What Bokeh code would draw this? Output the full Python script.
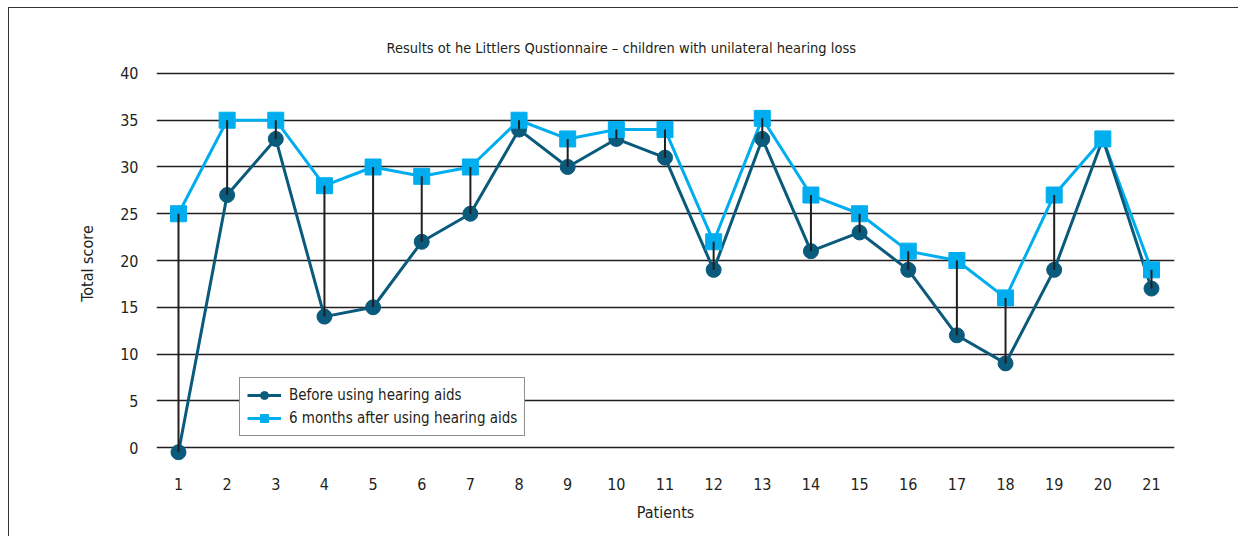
from bokeh.plotting import figure
from bokeh.models import Range1d, FixedTicker, Title, Legend, LegendItem, ColumnDataSource
from bokeh.embed import file_html
from bokeh.resources import INLINE

patients = list(range(1, 22))
before = [-0.5, 27, 33, 14, 15, 22, 25, 34, 30, 33, 31, 19, 33, 21, 23, 19, 12, 9, 19, 33, 17]
after = [25, 35, 35, 28, 30, 29, 30, 35, 33, 34, 34, 22, 35.2, 27, 25, 21, 20, 16, 27, 33, 19]
y_ticks = [0, 5, 10, 15, 20, 25, 30, 35, 40]

FONT = "DejaVu Sans Condensed"
DARK = "#0a5a7c"
LIGHT = "#00aeef"
INK = "#231f20"

p = figure(width=1230, height=529, output_backend="svg", toolbar_location=None,
           x_range=Range1d(0.548, 21.473), y_range=Range1d(-1.92, 41.28),
           min_border_left=147, min_border_right=65, min_border_top=53, min_border_bottom=72)
p.margin = (7, 0, 0, 8)
p.styles = {"border-left": "1.5px solid #333", "border-top": "1.5px solid #333"}
p.outline_line_color = None
p.background_fill_color = "white"

p.title = Title(text="Results ot he Littlers Qustionnaire \u2013 children with unilateral hearing loss",
                align="left", offset=230, text_font=FONT, text_font_size="14.5px",
                text_font_style="normal", text_color=INK, standoff=12)

src = ColumnDataSource(dict(x=patients, b=before, a=after))

la = p.line("x", "a", source=src, line_color=LIGHT, line_width=3)
lb = p.line("x", "b", source=src, line_color=DARK, line_width=3)
cb = p.scatter("x", "b", source=src, marker="circle", size=15, fill_color=DARK, line_color=DARK)
sa = p.scatter("x", "a", source=src, marker="square", size=16, fill_color=LIGHT, line_color=LIGHT)
p.segment(x0="x", y0="b", x1="x", y1="a", source=src, line_color=INK, line_width=2)

p.xaxis.ticker = FixedTicker(ticks=patients)
p.yaxis.ticker = FixedTicker(ticks=y_ticks)
p.xgrid.grid_line_color = None
p.ygrid.grid_line_color = INK
p.ygrid.grid_line_width = 1.5

for ax in (p.xaxis[0], p.yaxis[0]):
    ax.axis_line_color = None
    ax.major_tick_line_color = None
    ax.minor_tick_line_color = None
    ax.major_label_text_font = FONT
    ax.major_label_text_font_size = "16px"
    ax.major_label_text_color = INK
    ax.axis_label_text_font = FONT
    ax.axis_label_text_font_size = "16px"
    ax.axis_label_text_font_style = "normal"
    ax.axis_label_text_color = INK

p.xaxis.axis_label = "Patients"
p.yaxis.axis_label = "Total score"
p.xaxis.major_label_standoff = 6
p.xaxis.axis_label_standoff = 10
p.yaxis.major_label_standoff = 12
p.yaxis.axis_label_standoff = 20

legend = Legend(items=[LegendItem(label="Before using hearing aids", renderers=[lb, cb]),
                       LegendItem(label="6 months after using hearing aids", renderers=[la, sa])],
                location=(83, 29), label_text_font=FONT, label_text_font_size="15px",
                label_text_color=INK, border_line_color=INK, border_line_width=1.5,
                padding=7, margin=0, spacing=3, glyph_width=34, glyph_height=20,
                label_standoff=8, background_fill_alpha=1.0)
p.add_layout(legend)

open("out.html", "w").write(file_html(p, INLINE))
